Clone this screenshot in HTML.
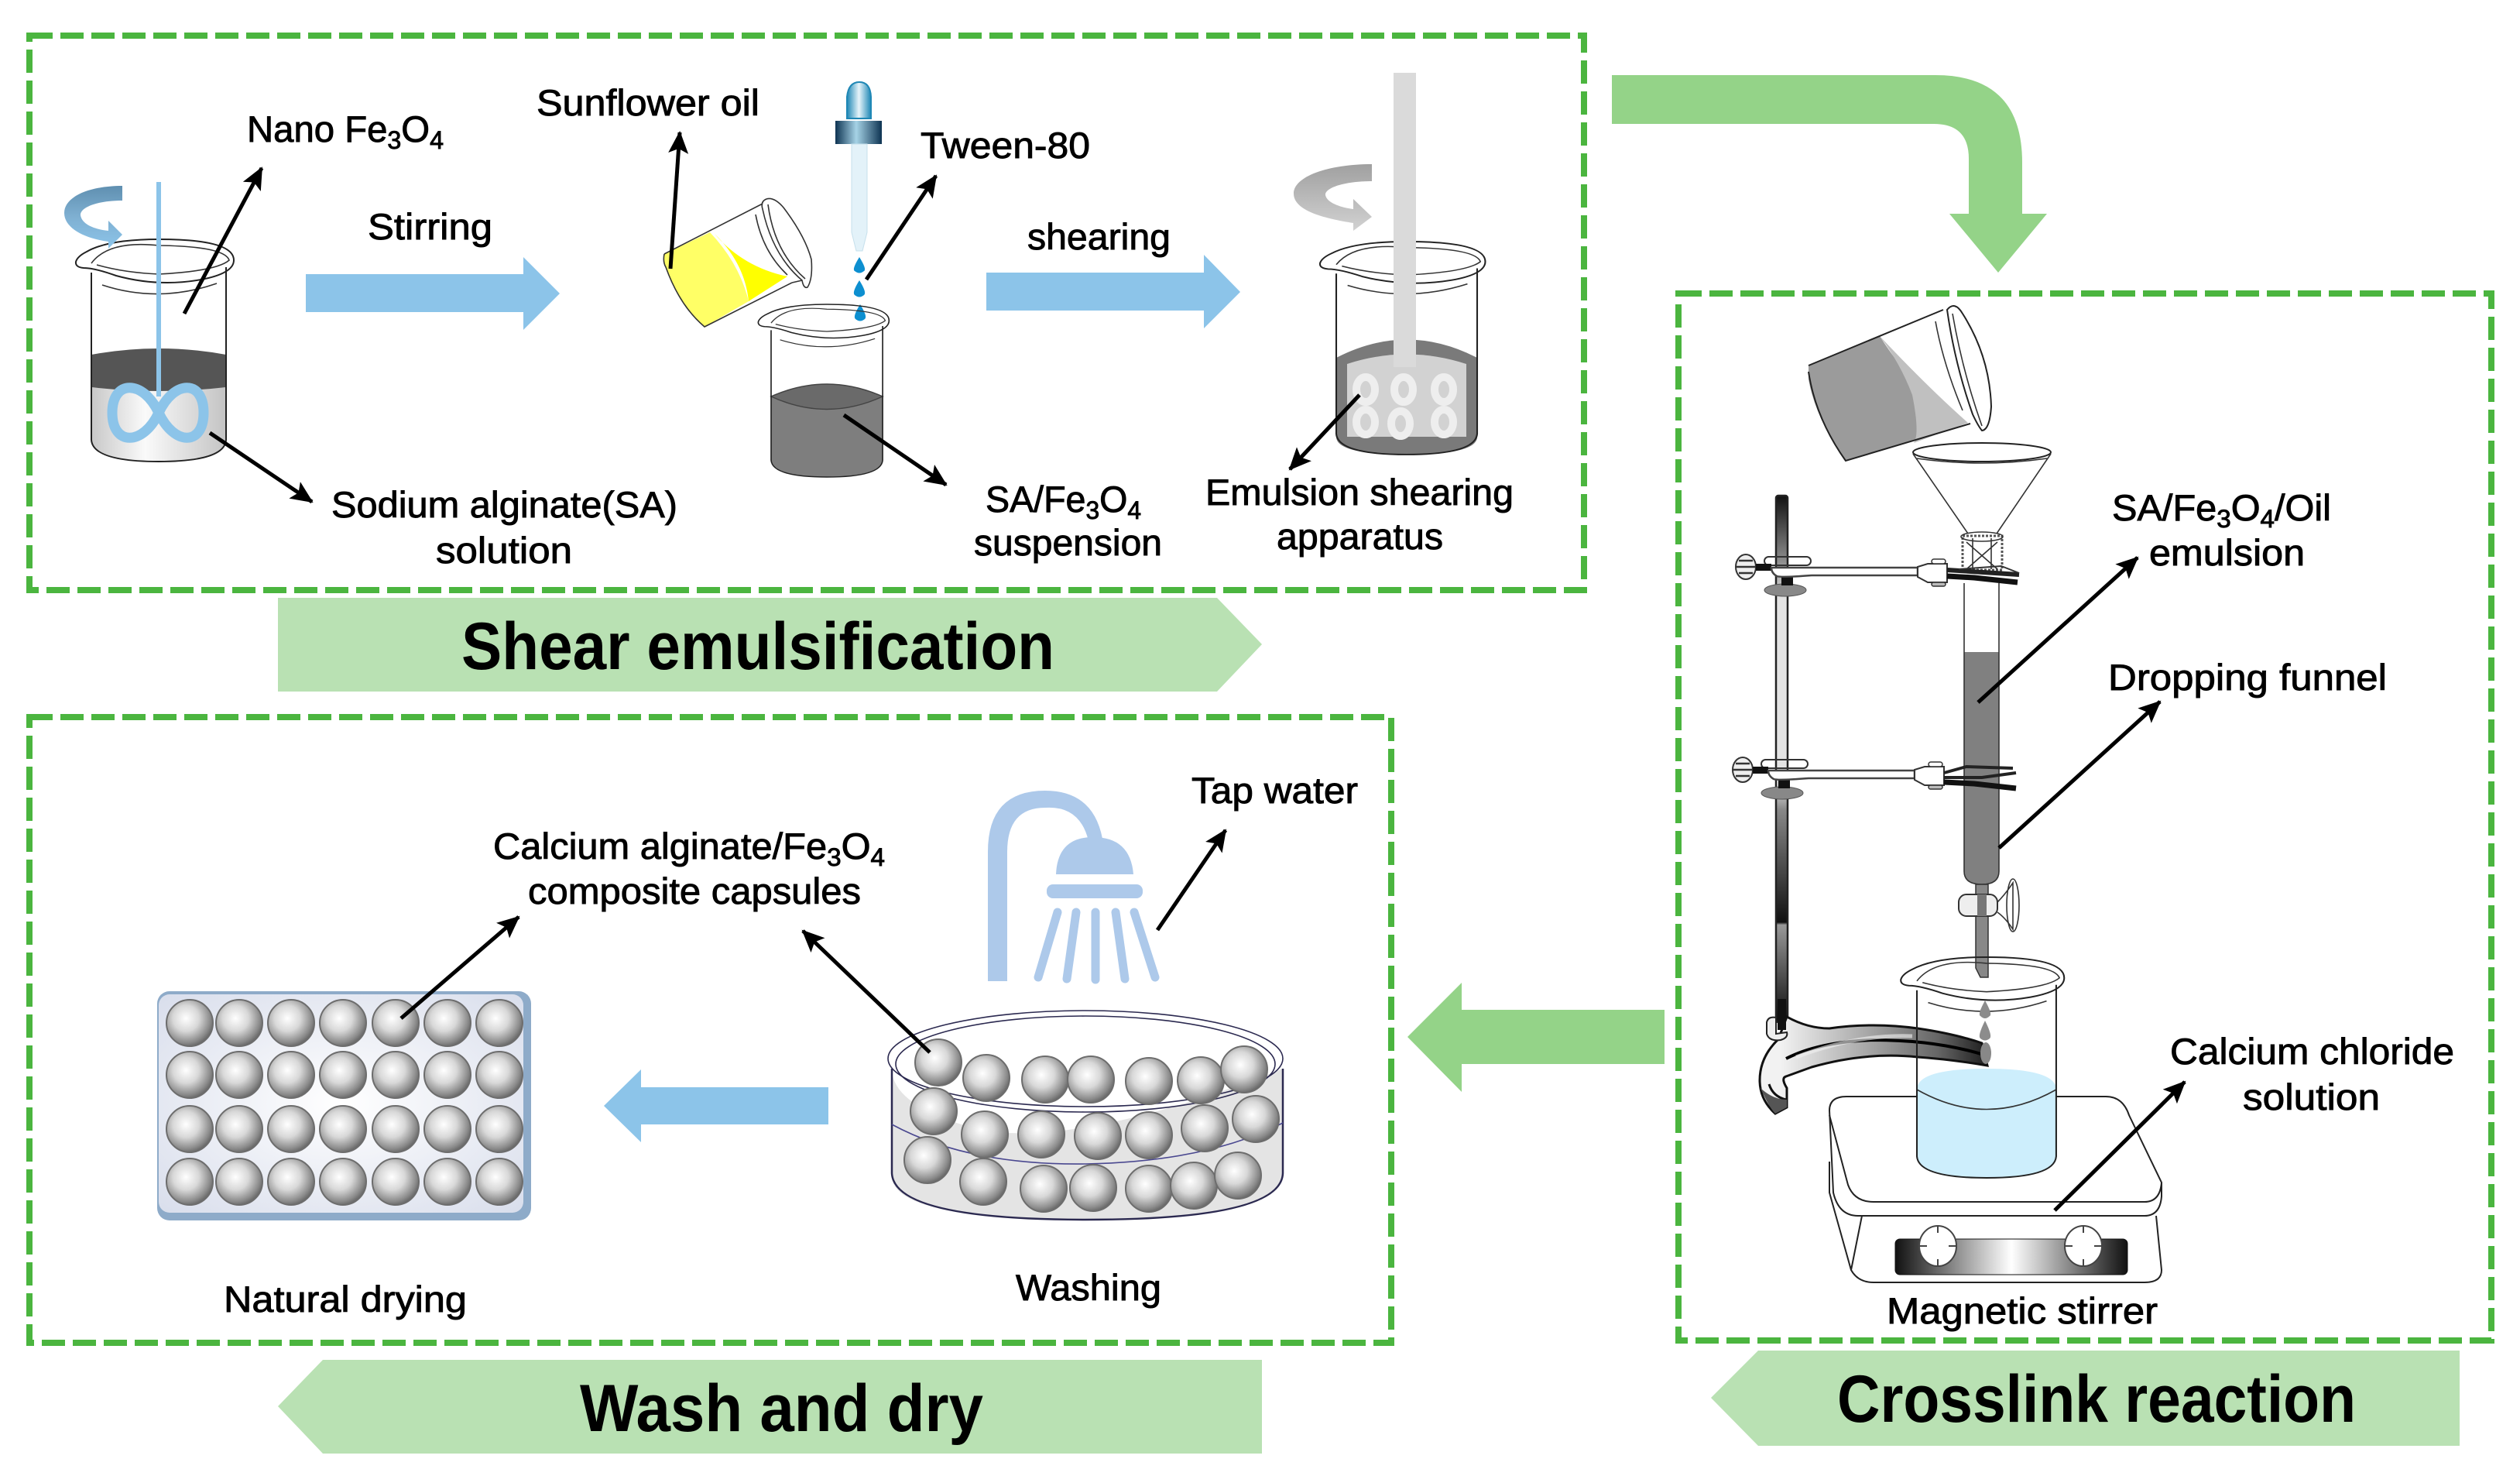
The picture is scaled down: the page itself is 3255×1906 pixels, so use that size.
<!DOCTYPE html>
<html><head><meta charset="utf-8"><title>Process diagram</title>
<style>
html,body{margin:0;padding:0;background:#fff}
svg{display:block}
text{font-family:"Liberation Sans","DejaVu Sans",sans-serif;fill:#000;stroke:#000;stroke-width:.9;font-size:47px}
.b{font-weight:bold;font-size:86px;stroke-width:0}
.box{fill:none;stroke:#4bb53f;stroke-width:8;stroke-dasharray:30 10}
.ar{stroke:#000;stroke-width:5;fill:none;marker-end:url(#h)}
.ol{fill:none;stroke:#222;stroke-width:2}
.thin{fill:none;stroke:#333;stroke-width:1.6}
</style></head><body>
<svg width="3255" height="1906" viewBox="0 0 3255 1906" xmlns="http://www.w3.org/2000/svg">
<defs>
<marker id="h" markerUnits="userSpaceOnUse" markerWidth="32" markerHeight="28" refX="27" refY="13" orient="auto"><path d="M0 0L29 13L0 26L6 13Z" fill="#000"/></marker>
<radialGradient id="ball" cx=".42" cy=".4" r=".62"><stop offset="0" stop-color="#fff"/><stop offset=".45" stop-color="#d8d8d8"/><stop offset=".85" stop-color="#8a8a8a"/><stop offset="1" stop-color="#666"/></radialGradient>
<radialGradient id="plate" cx=".5" cy=".5" r=".7"><stop offset="0" stop-color="#fff"/><stop offset="1" stop-color="#d9deec"/></radialGradient>
<linearGradient id="rotb" x1="0" y1="0" x2="0" y2="1"><stop offset="0" stop-color="#5f8fb0"/><stop offset=".5" stop-color="#7fb0d2"/><stop offset="1" stop-color="#8cc4e9"/></linearGradient>
<linearGradient id="rotg" x1="0" y1="0" x2="0" y2="1"><stop offset="0" stop-color="#a0a0a0"/><stop offset="1" stop-color="#d2d2d2"/></linearGradient>
<linearGradient id="liq" x1="0" y1="0" x2="1" y2="0"><stop offset="0" stop-color="#c8c8c8"/><stop offset=".4" stop-color="#fafafa"/><stop offset="1" stop-color="#c4c4c4"/></linearGradient>
<linearGradient id="rod" gradientUnits="userSpaceOnUse" x1="0" y1="640" x2="0" y2="1316"><stop offset="0" stop-color="#111"/><stop offset=".12" stop-color="#888"/><stop offset=".2" stop-color="#e4e4e4"/><stop offset=".55" stop-color="#e4e4e4"/><stop offset=".6" stop-color="#888"/><stop offset=".815" stop-color="#111"/><stop offset=".82" stop-color="#999"/><stop offset="1" stop-color="#111"/></linearGradient>
<linearGradient id="foot" gradientUnits="userSpaceOnUse" x1="2300" y1="0" x2="2570" y2="0"><stop offset="0" stop-color="#f2f2f2"/><stop offset=".4" stop-color="#aaa"/><stop offset=".75" stop-color="#666"/><stop offset="1" stop-color="#1a1a1a"/></linearGradient>
<linearGradient id="foot2" x1="0" y1="0" x2="1" y2="0"><stop offset="0" stop-color="#555"/><stop offset=".5" stop-color="#ddd"/><stop offset="1" stop-color="#777"/></linearGradient>
<linearGradient id="pan" x1="0" y1="0" x2="1" y2="0"><stop offset="0" stop-color="#111"/><stop offset=".5" stop-color="#fff"/><stop offset="1" stop-color="#111"/></linearGradient>
<linearGradient id="cap" x1="0" y1="0" x2="1" y2="0"><stop offset="0" stop-color="#0d3352"/><stop offset=".45" stop-color="#a6d3e6"/><stop offset="1" stop-color="#0d3352"/></linearGradient>
<linearGradient id="bulb" x1="0" y1="0" x2="1" y2="0"><stop offset="0" stop-color="#1e87b5"/><stop offset=".5" stop-color="#e7f4fa"/><stop offset="1" stop-color="#1e87b5"/></linearGradient>
<circle id="bl" r="30" fill="url(#ball)" stroke="#6d6d6d" stroke-width="2"/>
<g id="beaker">
<path class="ol" d="M118 352V568Q120 596 205 596Q290 596 292 568V345"/>
<path class="ol" fill="none" d="M98 338Q100 331 112 325Q140 309 205 309Q302 309 302 336Q302 353 260 361Q205 371 150 356Q122 346 108 346Q97 345 98 338Z"/>
<path class="thin" d="M118 340Q140 310 205 317Q290 318 296 336Q280 350 205 354Q160 352 125 342"/>
<path class="thin" d="M132 368Q205 392 280 366"/>
</g>
<g id="clamp">
<rect x="2279" y="719" width="60" height="11" rx="5.5" fill="none" stroke="#333" stroke-width="2"/>
<ellipse cx="2255" cy="732" rx="13" ry="16" fill="#eee" stroke="#333" stroke-width="2"/>
<path d="M2246 724H2264M2243 732H2267M2246 740H2264" stroke="#333" stroke-width="2.5"/>
<rect x="2268" y="728" width="20" height="9" fill="#111"/>
<ellipse cx="2306" cy="762" rx="27" ry="8" fill="#888" stroke="#555"/>
<rect x="2301" y="745" width="15" height="11" fill="#111"/>
<path d="M2288 733H2477V743H2340Q2300 746 2295 744Q2288 740 2288 733Z" fill="#fff" stroke="#444" stroke-width="2.5"/>
<path d="M2477 732L2490 728H2515V752H2490L2477 745Z" fill="#fff" stroke="#333" stroke-width="2"/>
<rect x="2495" y="722" width="18" height="6" rx="3" fill="#fff" stroke="#333" stroke-width="1.5"/>
<rect x="2495" y="752" width="18" height="5" rx="2.5" fill="#bbb" stroke="#333" stroke-width="1.5"/>
</g>
</defs>

<rect width="3255" height="1906" fill="#fff"/>

<rect class="box" x="38" y="46" width="2008" height="716"/>
<rect class="box" x="38" y="926" width="1759" height="808"/>
<rect class="box" x="2168" y="379" width="1050" height="1352"/>

<!-- banners -->
<path d="M359 772H1572L1630 832L1572 893H359Z" fill="#b9e1b3"/>
<path d="M1630 1756H417L359 1816L417 1877H1630Z" fill="#b9e1b3"/>
<path d="M3177 1744H2271L2210 1805L2271 1867H3177Z" fill="#b9e1b3"/>
<text class="b" x="596" y="864" textLength="766" lengthAdjust="spacingAndGlyphs">Shear emulsification</text>
<text class="b" x="749" y="1848" textLength="521" lengthAdjust="spacingAndGlyphs">Wash and dry</text>
<text class="b" x="2373" y="1836" textLength="670" lengthAdjust="spacingAndGlyphs">Crosslink reaction</text>

<!-- big green arrows -->
<path d="M2082 97H2500Q2612 97 2612 210V276H2644L2581 352L2518 276H2543V205Q2543 160 2498 160H2082Z" fill="#94d388"/>
<path d="M1818 1339L1888 1269V1304H2150V1374H1888V1410Z" fill="#94d388"/>

<!-- blue arrows -->
<path d="M395 354H676V332L723 379L676 426V403H395Z" fill="#8cc4e9"/>
<path d="M1274 352H1555V329L1602 377L1555 424V401H1274Z" fill="#8cc4e9"/>
<path d="M1070 1404H828V1381L780 1428L828 1475V1452H1070Z" fill="#8cc4e9"/>

<!-- beaker 1 -->
<path d="M118 500Q205 508 292 500V565Q290 596 205 596Q120 596 118 565Z" fill="url(#liq)"/>
<path d="M118 458Q205 442 292 458V500Q205 510 118 500Z" fill="#555"/>
<use href="#beaker"/>
<path d="M205 235V512" stroke="#8cc4e9" stroke-width="6" fill="none"/>
<path d="M205 533C185 490 145 490 145 533C145 576 185 576 205 533C225 490 263 490 263 533C263 576 225 576 205 533Z" fill="none" stroke="#8cc4e9" stroke-width="13"/>
<path d="M158 240V259C125 259 103 268 104 278C106 290 122 296 140 298V285L158 303L140 321V312C110 308 83 295 83 275C83 254 115 240 158 240Z" fill="url(#rotb)"/>

<!-- yellow tilted beaker -->
<path d="M858 328L917 300Q955 340 967 389L910 422Q875 390 858 340Z" fill="#ffff66"/>
<path d="M923 302Q960 345 1017 357L967 389Q962 340 923 302Z" fill="#ffff00"/>
<path class="thin" d="M858 328L985 263M858 328Q856 338 860 345Q878 395 910 422L1023 365"/>
<path class="thin" d="M990 257Q1000 254 1012 268Q1040 305 1048 335Q1050 360 1043 371Q1038 373 1036 362Q998 330 985 270Q982 260 990 257Z"/>
<path class="thin" d="M992 264Q1000 325 1040 360M976 277Q985 325 1017 355M1023 365L1036 362"/>

<!-- dropper -->
<path d="M1094 153V125Q1096 106 1110 106Q1124 106 1125 125V153Z" fill="url(#bulb)" stroke="#1e87b5" stroke-width="2"/>
<rect x="1079" y="156" width="60" height="30" fill="url(#cap)"/>
<path d="M1100 186H1120V300L1114 324H1106L1100 300Z" fill="#e3f2f9" stroke="#c6e0ec"/>
<g fill="#0d8fd0"><path d="M1110 332Q1120 348 1116 350Q1110 355 1104 350Q1100 348 1110 332Z"/><path d="M1110 362Q1120 378 1116 381Q1110 386 1104 381Q1100 378 1110 362Z"/><path d="M1111 393Q1121 409 1117 412Q1111 417 1105 412Q1101 409 1111 393Z"/></g>

<!-- beaker 2 -->
<path d="M996 512Q1068 480 1140 512V595Q1138 616 1068 616Q998 616 996 595Z" fill="#7e7e7e"/>
<path d="M996 512Q1068 480 1140 512Q1068 545 996 512Z" fill="#6a6a6a" stroke="#444" stroke-width="1.5"/>
<use href="#beaker" transform="translate(996 393) scale(.828 .777) translate(-118 -309)"/>

<!-- beaker 3 -->
<path d="M1726 462Q1817 415 1908 462V565Q1906 587 1817 587Q1728 587 1726 565Z" fill="#7a7a7a"/>
<path d="M1740 470Q1817 445 1894 470V564H1740Z" fill="#d2d2d2"/>
<g fill="none" stroke="#eee" stroke-width="10"><ellipse cx="1764" cy="503" rx="12" ry="16"/><ellipse cx="1813" cy="503" rx="12" ry="16"/><ellipse cx="1865" cy="503" rx="12" ry="16"/><ellipse cx="1764" cy="545" rx="12" ry="16"/><ellipse cx="1809" cy="547" rx="12" ry="16"/><ellipse cx="1865" cy="545" rx="12" ry="16"/></g>
<use href="#beaker" transform="translate(1726 312) scale(1.046 .958) translate(-118 -309)"/>
<rect x="1800" y="94" width="29" height="380" fill="#dadada"/>
<path d="M1772 212V234C1735 234 1711 243 1712 252C1714 262 1732 268 1748 270V257L1772 280L1748 298V288C1710 282 1671 272 1671 250C1671 228 1715 212 1772 212Z" fill="url(#rotg)"/>

<!-- gray tilted beaker -->
<path d="M2336 472L2428 434Q2470 500 2510 525L2542 546L2384 595Q2345 540 2336 490Z" fill="#9b9b9b"/>
<path d="M2428 434Q2455 470 2470 510Q2480 560 2472 572L2542 546Q2490 500 2428 434Z" fill="#c0c0c0"/>
<path class="ol" d="M2336 472L2510 400M2336 480Q2345 540 2384 595L2545 547"/>
<path class="ol" d="M2515 400Q2525 388 2535 405Q2570 460 2572 525Q2570 555 2560 556Q2555 550 2548 535Q2525 470 2515 400Z"/>
<path class="thin" d="M2522 405Q2535 480 2560 550M2500 415Q2510 470 2535 530"/>

<!-- funnel and tube -->
<ellipse class="ol" cx="2560" cy="584" rx="89" ry="12"/>
<path class="thin" d="M2471 586L2542 689M2649 586L2579 689M2476 592Q2560 604 2644 592"/>
<rect x="2535" y="692" width="51" height="44" fill="none" stroke="#555" stroke-width="3" stroke-dasharray="3 2"/>
<ellipse cx="2560" cy="693" rx="27" ry="6" class="thin"/>
<path class="thin" d="M2540 700L2580 735M2580 700L2540 735M2548 695V735M2572 695V735"/>
<path d="M2537 842H2582V1125Q2582 1142 2560 1142Q2537 1142 2537 1125Z" fill="#808080"/>
<path class="thin" d="M2537 753V1125Q2537 1142 2560 1142Q2582 1142 2582 1125V753"/>
<path d="M2552 1142H2568V1262L2558 1262L2552 1250Z" fill="#888" stroke="#333" stroke-width="1.5"/>
<rect x="2530" y="1155" width="50" height="28" rx="10" fill="#eee" stroke="#333" stroke-width="2"/>
<rect x="2554" y="1155" width="12" height="28" fill="#777"/>
<path class="thin" d="M2580 1165Q2590 1155 2600 1140V1200Q2590 1185 2580 1178"/>
<ellipse class="thin" cx="2600" cy="1169" rx="8" ry="34" fill="#fff"/>

<!-- stand rod -->
<rect x="2294" y="640" width="15" height="680" rx="3" fill="url(#rod)" stroke="#222" stroke-width="2.5"/>
<!-- stand base -->
<path d="M2308 1313Q2335 1328 2363 1328Q2420 1320 2477 1328Q2525 1335 2560 1347L2567 1376Q2520 1368 2477 1365Q2410 1358 2340 1378L2307 1390Q2300 1392 2308 1405V1430L2293 1438Q2273 1420 2273 1395Q2273 1365 2297 1342Z" fill="url(#foot)" stroke="#111" stroke-width="3"/>
<path d="M2307 1367Q2350 1345 2420 1343Q2500 1343 2562 1362" fill="none" stroke="#000" stroke-width="4"/>
<path d="M2285 1400Q2290 1416 2307 1420" fill="none" stroke="#111" stroke-width="3"/>
<path d="M2320 1365Q2400 1335 2470 1338" fill="none" stroke="#f2f2f2" stroke-width="5" opacity=".6"/>
<path d="M2274 1405Q2285 1430 2293 1438L2308 1430V1420Q2290 1420 2274 1405Z" fill="#555"/>
<ellipse cx="2565" cy="1360" rx="7" ry="14" fill="#888"/>
<path d="M2282 1320Q2284 1312 2294 1314V1335L2308 1333Q2310 1340 2300 1343Q2285 1345 2282 1335Z" fill="#eee" stroke="#222" stroke-width="2"/>
<rect x="2296" y="1290" width="11" height="40" fill="#111"/>

<!-- clamps -->
<use href="#clamp"/>
<path d="M2515 736L2608 742" stroke="#222" stroke-width="6" fill="none"/>
<path d="M2515 744L2550 746L2606 752" stroke="#111" stroke-width="7" fill="none"/>
<path d="M2530 735L2585 731L2608 740" fill="none" stroke="#333" stroke-width="2"/>
<use href="#clamp" transform="translate(-4 262)"/>
<path d="M2511 998L2540 990L2600 992M2511 1004H2560L2604 998" stroke="#222" stroke-width="4" fill="none"/>
<path d="M2511 1010L2550 1012L2604 1018" stroke="#111" stroke-width="7" fill="none"/>

<!-- hot plate -->
<path class="ol" d="M2385 1416H2720Q2742 1416 2750 1440L2792 1527V1545Q2790 1570 2770 1570H2400Q2375 1570 2368 1540L2363 1434Q2363 1416 2385 1416Z"/>
<path class="ol" d="M2363 1440L2387 1530Q2395 1552 2420 1552H2770Q2790 1552 2792 1527"/>
<path class="ol" d="M2363 1500V1540L2391 1640Q2400 1656 2420 1656H2770Q2792 1656 2792 1640L2785 1570M2405 1570L2391 1640"/>
<rect x="2448" y="1600" width="300" height="46" rx="6" fill="url(#pan)" stroke="#111"/>
<g fill="#fff" stroke="#444" stroke-width="2"><ellipse cx="2503" cy="1609" rx="24" ry="26"/><ellipse cx="2691" cy="1609" rx="24" ry="26"/></g>
<path d="M2503 1583V1592M2503 1626V1635M2479 1609H2489M2517 1609H2527M2691 1583V1592M2691 1626V1635M2667 1609H2677M2705 1609H2715" stroke="#444" stroke-width="2"/>

<!-- beaker 4 -->
<path d="M2476 1407Q2476 1380 2566 1380Q2656 1380 2656 1407V1495Q2654 1521 2566 1521Q2478 1521 2476 1495Z" fill="#cdeefc"/>
<path class="thin" d="M2476 1407Q2566 1458 2656 1407"/>
<use href="#beaker" transform="translate(2476 1236) scale(1.034 .993) translate(-118 -309)"/>
<g fill="#8c8c8c"><path d="M2564 1292Q2574 1310 2570 1312Q2564 1318 2558 1312Q2554 1310 2564 1292Z"/><path d="M2564 1318Q2574 1338 2570 1341Q2564 1346 2558 1341Q2554 1338 2564 1318Z"/></g>

<!-- shower -->
<g fill="#adc9ea">
<path d="M1276 1267V1100Q1276 1021 1350 1021Q1412 1021 1424 1083L1406 1086Q1395 1040 1350 1043Q1301 1043 1301 1100V1267Z"/>
<path d="M1364 1129Q1366 1081 1412 1081Q1460 1081 1464 1129Z"/>
<rect x="1352" y="1142" width="124" height="18" rx="8"/>
</g>
<g stroke="#adc9ea" stroke-width="11" stroke-linecap="round" fill="none"><path d="M1366 1178L1341 1262M1390 1178L1378 1264M1415 1178V1265M1441 1178L1453 1264M1465 1178L1492 1262"/></g>

<!-- dish -->
<path d="M1152 1380Q1152 1430 1270 1460V1460Q1402 1480 1657 1380V1520Q1650 1575 1402 1575Q1155 1575 1152 1520Z" fill="#e4e4e4"/>
<path d="M1152 1380V1515Q1155 1575 1402 1575Q1655 1575 1657 1515V1380" fill="none" stroke="#2b2950" stroke-width="2.5"/>
<ellipse cx="1402" cy="1367" rx="255" ry="62" fill="none" stroke="#2b2950" stroke-width="1.6"/>
<ellipse cx="1402" cy="1374" rx="245" ry="62" fill="none" stroke="#2b2950" stroke-width="1.6"/>
<path d="M1152 1452Q1250 1505 1402 1503Q1560 1500 1657 1450" fill="none" stroke="#4a4890" stroke-width="1.6"/>
<g>
<use href="#bl" x="1212" y="1372"/><use href="#bl" x="1274" y="1392"/><use href="#bl" x="1350" y="1394"/><use href="#bl" x="1409" y="1394"/><use href="#bl" x="1484" y="1396"/><use href="#bl" x="1551" y="1395"/><use href="#bl" x="1607" y="1381"/>
<use href="#bl" x="1206" y="1435"/><use href="#bl" x="1272" y="1465"/><use href="#bl" x="1345" y="1465"/><use href="#bl" x="1418" y="1467"/><use href="#bl" x="1484" y="1466"/><use href="#bl" x="1556" y="1457"/><use href="#bl" x="1622" y="1445"/>
<use href="#bl" x="1198" y="1498"/><use href="#bl" x="1270" y="1526"/><use href="#bl" x="1348" y="1535"/><use href="#bl" x="1412" y="1534"/><use href="#bl" x="1484" y="1535"/><use href="#bl" x="1542" y="1531"/><use href="#bl" x="1599" y="1518"/>
</g>

<!-- plate -->
<rect x="203" y="1280" width="483" height="296" rx="16" fill="#8eabc9"/>
<rect x="205" y="1284" width="471" height="282" rx="14" fill="url(#plate)"/>
<g>
<use href="#bl" x="245" y="1321"/><use href="#bl" x="309" y="1321"/><use href="#bl" x="376" y="1321"/><use href="#bl" x="443" y="1321"/><use href="#bl" x="511" y="1321"/><use href="#bl" x="578" y="1321"/><use href="#bl" x="645" y="1321"/>
<use href="#bl" x="245" y="1388"/><use href="#bl" x="309" y="1388"/><use href="#bl" x="376" y="1388"/><use href="#bl" x="443" y="1388"/><use href="#bl" x="511" y="1388"/><use href="#bl" x="578" y="1388"/><use href="#bl" x="645" y="1388"/>
<use href="#bl" x="245" y="1458"/><use href="#bl" x="309" y="1458"/><use href="#bl" x="376" y="1458"/><use href="#bl" x="443" y="1458"/><use href="#bl" x="511" y="1458"/><use href="#bl" x="578" y="1458"/><use href="#bl" x="645" y="1458"/>
<use href="#bl" x="245" y="1526"/><use href="#bl" x="309" y="1526"/><use href="#bl" x="376" y="1526"/><use href="#bl" x="443" y="1526"/><use href="#bl" x="511" y="1526"/><use href="#bl" x="578" y="1526"/><use href="#bl" x="645" y="1526"/>
</g>

<!-- leader arrows -->
<path class="ar" d="M238 405L338 217"/>
<path class="ar" d="M271 559L403 648"/>
<path class="ar" d="M866 347L878 171"/>
<path class="ar" d="M1119 361L1209 227"/>
<path class="ar" d="M1090 536L1222 626"/>
<path class="ar" d="M1756 510L1666 606"/>
<path class="ar" d="M2555 907L2761 720"/>
<path class="ar" d="M2582 1095L2790 906"/>
<path class="ar" d="M2654 1563L2822 1397"/>
<path class="ar" d="M1495 1201L1583 1072"/>
<path class="ar" d="M1201 1359L1037 1202"/>
<path class="ar" d="M518 1315L670 1184"/>

<!-- labels -->
<text x="319" y="183" textLength="254" lengthAdjust="spacingAndGlyphs">Nano Fe<tspan font-size="32" dy="9">3</tspan><tspan dy="-9">O</tspan><tspan font-size="32" dy="9">4</tspan></text>
<text x="693" y="149" textLength="288" lengthAdjust="spacingAndGlyphs">Sunflower oil</text>
<text x="475" y="309" textLength="161" lengthAdjust="spacingAndGlyphs">Stirring</text>
<text x="428" y="668" textLength="447" lengthAdjust="spacingAndGlyphs">Sodium alginate(SA)</text>
<text x="563" y="727" textLength="176" lengthAdjust="spacingAndGlyphs">solution</text>
<text x="1189" y="204" textLength="219" lengthAdjust="spacingAndGlyphs">Tween-80</text>
<text x="1327" y="322" textLength="185" lengthAdjust="spacingAndGlyphs">shearing</text>
<text x="1273" y="661" textLength="201" lengthAdjust="spacingAndGlyphs">SA/Fe<tspan font-size="32" dy="9">3</tspan><tspan dy="-9">O</tspan><tspan font-size="32" dy="9">4</tspan></text>
<text x="1258" y="717" textLength="243" lengthAdjust="spacingAndGlyphs">suspension</text>
<text x="1557" y="652" textLength="398" lengthAdjust="spacingAndGlyphs">Emulsion shearing</text>
<text x="1649" y="709" textLength="215" lengthAdjust="spacingAndGlyphs">apparatus</text>
<text x="2728" y="672" textLength="283" lengthAdjust="spacingAndGlyphs">SA/Fe<tspan font-size="32" dy="9">3</tspan><tspan dy="-9">O</tspan><tspan font-size="32" dy="9">4</tspan><tspan dy="-9">/Oil</tspan></text>
<text x="2776" y="730" textLength="201" lengthAdjust="spacingAndGlyphs">emulsion</text>
<text x="2723" y="891" textLength="360" lengthAdjust="spacingAndGlyphs">Dropping funnel</text>
<text x="2803" y="1374" textLength="367" lengthAdjust="spacingAndGlyphs">Calcium chloride</text>
<text x="2897" y="1433" textLength="177" lengthAdjust="spacingAndGlyphs">solution</text>
<text x="2437" y="1709" textLength="350" lengthAdjust="spacingAndGlyphs">Magnetic stirrer</text>
<text x="1539" y="1037" textLength="215" lengthAdjust="spacingAndGlyphs">Tap water</text>
<text x="637" y="1109" textLength="506" lengthAdjust="spacingAndGlyphs">Calcium alginate/Fe<tspan font-size="32" dy="9">3</tspan><tspan dy="-9">O</tspan><tspan font-size="32" dy="9">4</tspan></text>
<text x="682" y="1167" textLength="430" lengthAdjust="spacingAndGlyphs">composite capsules</text>
<text x="1312" y="1679" textLength="188" lengthAdjust="spacingAndGlyphs">Washing</text>
<text x="289" y="1694" textLength="314" lengthAdjust="spacingAndGlyphs">Natural drying</text>
</svg>
</body></html>
